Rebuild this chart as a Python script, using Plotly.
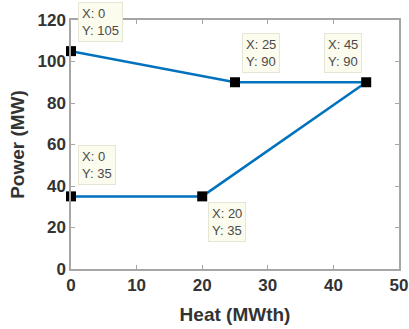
import plotly.graph_objects as go

# Operating region of the unit: heat output vs. power output
heat = [0, 25, 45, 20, 0]
power = [105, 90, 90, 35, 35]

x_ticks = [0, 10, 20, 30, 40, 50]
y_ticks = [0, 20, 40, 60, 80, 100, 120]

# data tip placement for each corner point: (xanchor, yanchor, xshift, yshift)
tip_points = [(0, 105), (25, 90), (45, 90), (0, 35), (20, 35)]
tip_place = [
    ("left", "bottom", 7, 9),
    ("left", "bottom", 7, 9),
    ("right", "bottom", -4, 9),
    ("left", "bottom", 7, 11),
    ("left", "top", 6, -6),
]

fig = go.Figure()
fig.add_trace(go.Scatter(
    x=heat, y=power, mode="lines",
    line=dict(color="#0072BD", width=2.5),
    hoverinfo="skip", showlegend=False,
))
fig.add_trace(go.Scatter(
    x=[p[0] for p in tip_points], y=[p[1] for p in tip_points], mode="markers",
    marker=dict(symbol="square", size=10, color="black"),
    hoverinfo="skip", showlegend=False, cliponaxis=False,
))

for (px, py), (xa, ya, xs, ys) in zip(tip_points, tip_place):
    fig.add_annotation(
        x=px, y=py, xref="x", yref="y",
        text=f"X: {px}<br>Y: {py}", showarrow=False, align="left",
        xanchor=xa, yanchor=ya, xshift=xs, yshift=ys,
        font=dict(family="Arial, Liberation Sans, sans-serif", size=13, color="#4a4a4a"),
        bgcolor="#fbfbee", bordercolor="#e6e6d6", borderwidth=1, borderpad=3,
    )

axis_common = dict(
    showline=True, linecolor="#a6a6a6", linewidth=1.5, mirror="ticks",
    ticks="inside", ticklen=4, tickcolor="#a6a6a6",
    showgrid=False, zeroline=False, automargin=False,
    tickfont=dict(family="Arial, Liberation Sans, sans-serif", size=17, color="#333333"),
)

fig.update_xaxes(
    range=[0, 50], tickvals=x_ticks, ticktext=[f"<b>{t}</b>" for t in x_ticks],
    title=dict(text="<b>Heat (MWth)</b>", standoff=14,
               font=dict(family="Arial, Liberation Sans, sans-serif", size=19, color="#333333")),
    **axis_common,
)
fig.update_yaxes(
    range=[0, 120], tickvals=y_ticks, ticktext=[f"<b>{t}</b>" for t in y_ticks],
    title=dict(text="<b>Power (MW)</b>", standoff=8,
               font=dict(family="Arial, Liberation Sans, sans-serif", size=19, color="#333333")),
    **axis_common,
)

fig.update_layout(
    width=409, height=329,
    margin=dict(l=71, r=10, t=20, b=60),
    plot_bgcolor="white", paper_bgcolor="white",
)

fig.write_html("out.html")
